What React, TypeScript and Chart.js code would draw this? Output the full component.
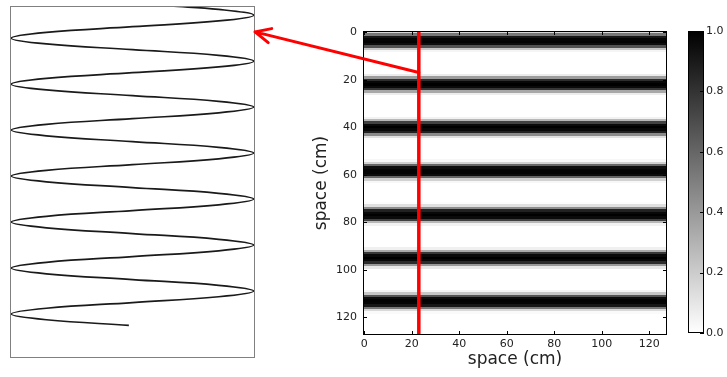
import React, { useEffect, useRef } from 'react';
import { Chart, registerables } from 'chart.js';

Chart.register(...registerables);

// ---- data ----
const imageXTicks = [0, 20, 40, 60, 80, 100, 120];
const imageYTicks = [0, 20, 40, 60, 80, 100, 120];
const colorbarTicks = [0, 0.2, 0.4, 0.6, 0.8, 1.0];
const imageBounds = [-0.5, 127.5];

// intensity of each image row (image is constant along x)
const rowIntensity = [
  0.15, 0.53, 0.91, 0.98, 0.99, 0.95, 0.68, 0.22, 0.04, 0,
  0, 0, 0, 0, 0, 0, 0, 0, 0.08, 0.39,
  0.82, 0.97, 1.00, 0.96, 0.79, 0.34, 0.07, 0, 0, 0,
  0, 0, 0, 0, 0, 0, 0.05, 0.28, 0.74, 0.96,
  1.00, 0.97, 0.87, 0.46, 0.12, 0.01, 0, 0, 0, 0,
  0, 0, 0, 0, 0.03, 0.18, 0.60, 0.95, 0.98, 0.98,
  0.95, 0.60, 0.18, 0.03, 0, 0, 0, 0, 0, 0,
  0, 0, 0.01, 0.12, 0.45, 0.87, 0.97, 1.00, 0.96, 0.75,
  0.28, 0.05, 0, 0, 0, 0, 0, 0, 0, 0,
  0, 0.06, 0.33, 0.78, 0.96, 1.00, 0.97, 0.83, 0.40, 0.09,
  0, 0, 0, 0, 0, 0, 0, 0, 0, 0.04,
  0.22, 0.67, 0.95, 0.99, 0.98, 0.91, 0.53, 0.15, 0.02, 0,
  0, 0, 0, 0, 0, 0, 0, 0,
];

// profile along the red line (left panel): row positions and values
const waveRows = [
  0, 1.36, 3.65, 5.94, 8.22, 10.51, 12.79, 15.08, 17.36, 19.65,
  21.94, 24.22, 26.51, 28.79, 31.08, 33.36, 35.65, 37.94,
  40.22, 42.51, 44.79, 47.08, 49.36, 51.65, 53.94, 56.22,
  58.51, 60.79, 63.08, 65.36, 67.65, 69.94, 72.22, 74.51,
  76.79, 79.08, 81.36, 83.65, 85.94, 88.22, 90.51, 92.79,
  95.08, 97.36, 99.65, 101.94, 104.22, 106.51, 108.79, 111.08,
  113.36, 115.65, 117.94, 120.22, 122.51, 124.79, 127,
];
const waveValues = [
  0.31, 0.71, 1, 0.71, 0, -0.71, -1, -0.71, 0, 0.71,
  1, 0.71, 0, -0.71, -1, -0.71, 0, 0.71,
  1, 0.71, 0, -0.71, -1, -0.71, 0, 0.71,
  1, 0.71, 0, -0.71, -1, -0.71, 0, 0.71,
  1, 0.71, 0, -0.71, -1, -0.71, 0, 0.71,
  1, 0.71, 0, -0.71, -1, -0.71, 0, 0.71,
  1, 0.71, 0, -0.71, -1, -0.71, -0.03,
];

const redLineColumn = 23;
const arrowFromImage = [23, 17];
const arrowToProfile = [1.01, 10.3];

const FONT = "'DejaVu Sans', 'Liberation Sans', sans-serif";
const TEXT = '#222222';

const LEFT_BOX = { left: 0, top: 0, width: 270, height: 377 };
const IMG_BOX = { left: 290, top: 0, width: 390, height: 377 };
const CB_BOX = { left: 680, top: 0, width: 47, height: 377 };

export default function App() {
  const leftRef = useRef<HTMLCanvasElement>(null);
  const imgRef = useRef<HTMLCanvasElement>(null);
  const cbRef = useRef<HTMLCanvasElement>(null);
  const overRef = useRef<HTMLCanvasElement>(null);

  useEffect(() => {
    Chart.defaults.font.family = FONT;

    const framePlugin = (color: string) => ({
      id: 'frame',
      afterDraw(chart: any) {
        const { ctx, chartArea: a } = chart;
        ctx.save();
        ctx.strokeStyle = color;
        ctx.lineWidth = 1;
        ctx.strokeRect(a.left + 0.5, a.top + 0.5, a.right - a.left - 1, a.bottom - a.top - 1);
        ctx.restore();
      },
    });

    const left = new Chart(leftRef.current!, {
      type: 'scatter',
      data: {
        datasets: [
          {
            data: waveRows.map((r, i) => ({ x: waveValues[i], y: r })),
            showLine: true,
            tension: 0.4,
            borderColor: '#1a1a1a',
            borderWidth: 1.7,
            pointRadius: 0,
            fill: false,
          } as any,
        ],
      },
      options: {
        responsive: false,
        animation: false,
        events: [],
        layout: { padding: { left: 10, top: 6, right: 15, bottom: 19 } },
        plugins: { legend: { display: false }, tooltip: { enabled: false } },
        scales: {
          x: { type: 'linear', min: -1.01, max: 1.01, display: false },
          y: { type: 'linear', min: 0, max: 140, reverse: true, display: false },
        },
      },
      plugins: [framePlugin('#808080')],
    });

    const imagePlugin = {
      id: 'image',
      beforeDatasetsDraw(chart: any) {
        const { ctx, scales } = chart;
        const x = scales.x, y = scales.y;
        const xl = Math.round(x.getPixelForValue(imageBounds[0]));
        const xr = Math.round(x.getPixelForValue(imageBounds[1]));
        ctx.save();
        rowIntensity.forEach((v, r) => {
          const y0 = Math.round(y.getPixelForValue(r - 0.5));
          const y1 = Math.round(y.getPixelForValue(r + 0.5));
          const g = Math.round(255 * (1 - v));
          ctx.fillStyle = `rgb(${g},${g},${g})`;
          ctx.fillRect(xl, Math.min(y0, y1), xr - xl, Math.abs(y1 - y0));
        });
        ctx.restore();
      },
      afterDraw(chart: any) {
        const { ctx, chartArea: a, scales } = chart;
        ctx.save();
        ctx.strokeStyle = '#000';
        ctx.lineWidth = 1;
        ctx.strokeRect(a.left + 0.5, a.top + 0.5, a.right - a.left - 1, a.bottom - a.top - 1);
        ctx.beginPath();
        imageXTicks.forEach((v) => {
          const px = Math.round(scales.x.getPixelForValue(v)) + 0.5;
          ctx.moveTo(px, a.top); ctx.lineTo(px, a.top + 4);
          ctx.moveTo(px, a.bottom); ctx.lineTo(px, a.bottom - 4);
        });
        imageYTicks.forEach((v) => {
          const py = Math.round(scales.y.getPixelForValue(v)) + 0.5;
          ctx.moveTo(a.left, py); ctx.lineTo(a.left + 4, py);
          ctx.moveTo(a.right, py); ctx.lineTo(a.right - 4, py);
        });
        ctx.stroke();
        ctx.restore();
      },
    };

    const img = new Chart(imgRef.current!, {
      type: 'scatter',
      data: {
        datasets: [
          {
            data: [
              { x: redLineColumn, y: imageBounds[0] },
              { x: redLineColumn, y: imageBounds[1] },
            ],
            showLine: true,
            borderColor: '#ff0000',
            borderWidth: 3.5,
            pointRadius: 0,
            fill: false,
          } as any,
        ],
      },
      options: {
        responsive: false,
        animation: false,
        events: [],
        layout: { padding: { left: 0, top: 31, right: 13, bottom: 0 } },
        plugins: { legend: { display: false }, tooltip: { enabled: false } },
        scales: {
          x: {
            type: 'linear',
            position: 'bottom',
            min: imageBounds[0],
            max: imageBounds[1],
            afterBuildTicks: (s: any) => { s.ticks = imageXTicks.map((v) => ({ value: v })); },
            afterFit: (s: any) => { s.height = 42; },
            ticks: { font: { size: 11, family: FONT }, color: TEXT, padding: 3, maxRotation: 0, autoSkip: false },
            grid: { display: false, drawTicks: false },
            border: { display: false },
            title: { display: true, text: 'space (cm)', font: { size: 17, family: FONT }, color: TEXT, padding: { top: 0, bottom: 7 } },
          },
          y: {
            type: 'linear',
            position: 'left',
            reverse: true,
            min: imageBounds[0],
            max: imageBounds[1],
            afterBuildTicks: (s: any) => { s.ticks = imageYTicks.map((v) => ({ value: v })); },
            afterFit: (s: any) => { s.width = 73; },
            ticks: { font: { size: 11, family: FONT }, color: TEXT, padding: 6, autoSkip: false },
            grid: { display: false, drawTicks: false },
            border: { display: false },
            title: { display: true, text: 'space (cm)', font: { size: 17, family: FONT }, color: TEXT, padding: { top: 21, bottom: 0 } },
          },
        },
      } as any,
      plugins: [imagePlugin],
    });

    const cbPlugin = {
      id: 'colorbar',
      beforeDatasetsDraw(chart: any) {
        const { ctx, chartArea: a, scales } = chart;
        const y0 = scales.y.getPixelForValue(0);
        const y1 = scales.y.getPixelForValue(1);
        const grad = ctx.createLinearGradient(0, y0, 0, y1);
        grad.addColorStop(0, 'rgb(255,255,255)');
        grad.addColorStop(1, 'rgb(0,0,0)');
        ctx.save();
        ctx.fillStyle = grad;
        ctx.fillRect(a.left, Math.min(y0, y1), a.right - a.left, Math.abs(y0 - y1));
        ctx.restore();
      },
      afterDraw(chart: any) {
        const { ctx, chartArea: a, scales } = chart;
        ctx.save();
        ctx.strokeStyle = '#000';
        ctx.lineWidth = 1;
        ctx.strokeRect(a.left + 0.5, a.top + 0.5, a.right - a.left - 1, a.bottom - a.top - 1);
        ctx.beginPath();
        colorbarTicks.forEach((v) => {
          const py = Math.round(scales.y.getPixelForValue(v)) + 0.5;
          ctx.moveTo(a.right, py); ctx.lineTo(a.right - 4, py);
        });
        ctx.stroke();
        ctx.restore();
      },
    };

    const cb = new Chart(cbRef.current!, {
      type: 'scatter',
      data: { datasets: [{ data: [] }] },
      options: {
        responsive: false,
        animation: false,
        events: [],
        layout: { padding: { left: 8, top: 31, right: 0, bottom: 44 } },
        plugins: { legend: { display: false }, tooltip: { enabled: false } },
        scales: {
          x: { type: 'linear', min: 0, max: 1, display: false },
          y: {
            type: 'linear',
            position: 'right',
            min: 0,
            max: 1,
            afterBuildTicks: (s: any) => { s.ticks = colorbarTicks.map((v) => ({ value: v })); },
            afterFit: (s: any) => { s.width = 23; },
            ticks: {
              font: { size: 11, family: FONT },
              color: TEXT,
              padding: 2,
              autoSkip: false,
              callback: (v: any) => Number(v).toFixed(1),
            },
            grid: { display: false, drawTicks: false },
            border: { display: false },
          },
        },
      } as any,
      plugins: [cbPlugin],
    });

    // arrow annotation between the two panels
    const ov = overRef.current!;
    const octx = ov.getContext('2d')!;
    octx.clearRect(0, 0, ov.width, ov.height);
    const tx = img.scales.x.getPixelForValue(arrowFromImage[0]) + IMG_BOX.left;
    const ty = img.scales.y.getPixelForValue(arrowFromImage[1]) + IMG_BOX.top;
    const hx = left.scales.x.getPixelForValue(arrowToProfile[0]) + LEFT_BOX.left;
    const hy = left.scales.y.getPixelForValue(arrowToProfile[1]) + LEFT_BOX.top;
    const ang = Math.atan2(ty - hy, tx - hx);
    const wing = 17;
    const spread = (25 * Math.PI) / 180;
    octx.save();
    octx.strokeStyle = '#ff0000';
    octx.lineWidth = 3;
    octx.lineCap = 'round';
    octx.lineJoin = 'round';
    octx.beginPath();
    octx.moveTo(tx, ty);
    octx.lineTo(hx, hy);
    octx.moveTo(hx + wing * Math.cos(ang - spread), hy + wing * Math.sin(ang - spread));
    octx.lineTo(hx, hy);
    octx.lineTo(hx + wing * Math.cos(ang + spread), hy + wing * Math.sin(ang + spread));
    octx.stroke();
    octx.restore();

    return () => {
      left.destroy();
      img.destroy();
      cb.destroy();
    };
  }, []);

  const abs = (b: { left: number; top: number; width: number; height: number }): React.CSSProperties => ({
    position: 'absolute',
    left: b.left,
    top: b.top,
    width: b.width,
    height: b.height,
  });

  return (
    <div style={{ position: 'absolute', left: 0, top: 0, width: 727, height: 377, background: '#fff', overflow: 'hidden' }}>
      <canvas ref={leftRef} width={LEFT_BOX.width} height={LEFT_BOX.height} style={abs(LEFT_BOX)} />
      <canvas ref={imgRef} width={IMG_BOX.width} height={IMG_BOX.height} style={abs(IMG_BOX)} />
      <canvas ref={cbRef} width={CB_BOX.width} height={CB_BOX.height} style={abs(CB_BOX)} />
      <canvas
        ref={overRef}
        width={727}
        height={377}
        style={{ position: 'absolute', left: 0, top: 0, width: 727, height: 377, pointerEvents: 'none' }}
      />
    </div>
  );
}
